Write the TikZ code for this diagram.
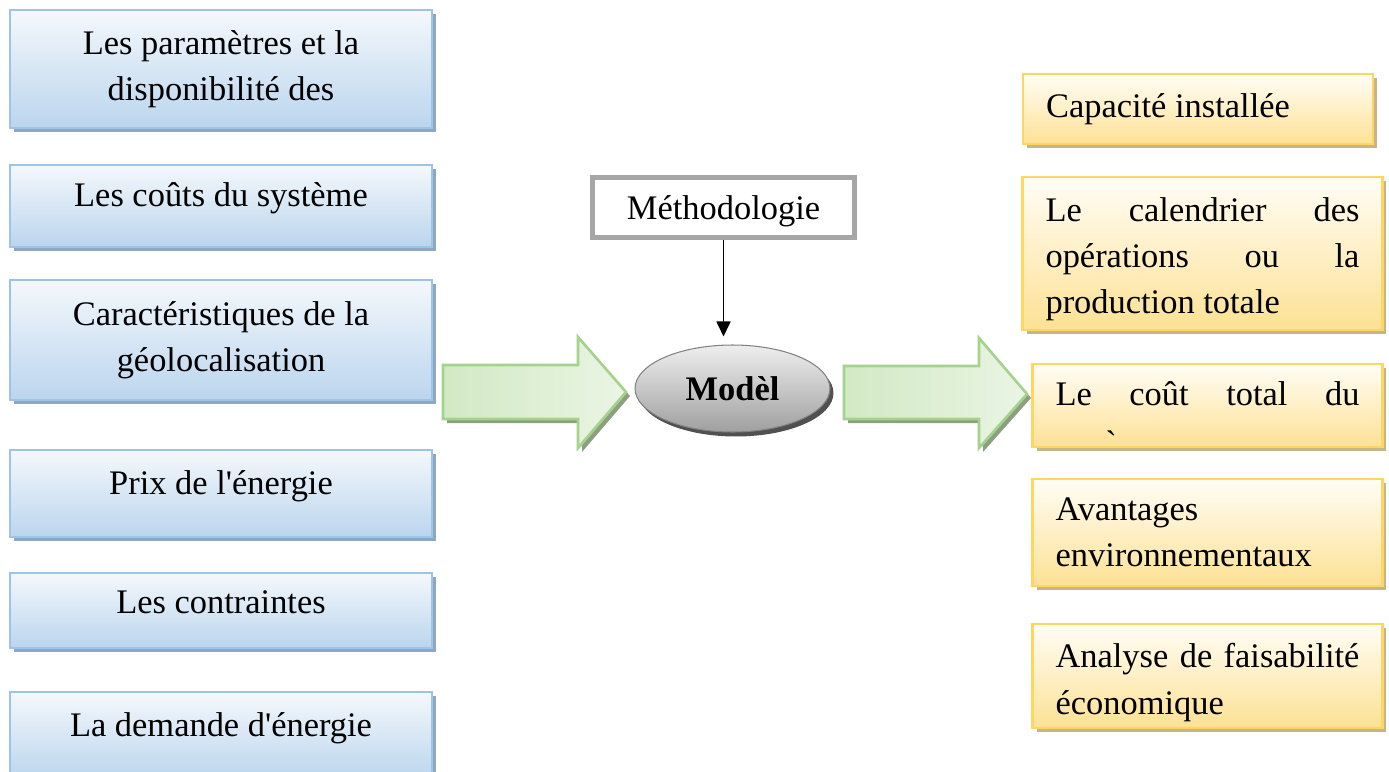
\documentclass[tikz,border=0pt]{standalone}
\usepackage{fontspec}
\setmainfont{Liberation Serif}[Ligatures=TeXOff]
\usetikzlibrary{shapes.geometric}
\usetikzlibrary{shadows}
\usetikzlibrary{arrows.meta}
\definecolor{boxblue}{RGB}{157,195,230}
\definecolor{bluetop}{RGB}{244,248,252}
\definecolor{bluebottom}{RGB}{187,213,238}
\definecolor{blueshadow}{RGB}{142,168,195}
\definecolor{boxgold}{RGB}{255,214,98}
\definecolor{goldtop}{RGB}{255,253,246}
\definecolor{goldbottom}{RGB}{253,225,148}
\definecolor{goldshadow}{RGB}{196,182,138}
\definecolor{arrowgreen}{RGB}{165,210,140}
\definecolor{greenleft}{RGB}{210,233,197}
\definecolor{greenright}{RGB}{234,245,228}
\definecolor{greenshadow}{RGB}{140,160,128}
\definecolor{methgrey}{RGB}{166,166,166}
\definecolor{elltop}{RGB}{238,238,238}
\definecolor{ellmid}{RGB}{200,200,200}
\definecolor{ellbottom}{RGB}{160,160,160}
\definecolor{ellrim}{RGB}{130,130,130}
\definecolor{ellshadow}{RGB}{80,80,80}

\begin{document}
\begin{tikzpicture}[x=0.02cm,y=-0.02cm,
  every node/.style={font=\fontsize{19.6}{26.4}\selectfont},
  inbox/.style={draw=boxblue,line width=1.5pt,top color=bluetop,bottom color=bluebottom,
    minimum width=8.44cm,text width=8cm,align=flush center,
    drop shadow={shadow xshift=0.08cm,shadow yshift=-0.08cm,fill=blueshadow,opacity=1}},
  oneline/.style={text height=0.47cm,text depth=0.45cm},
  outbox/.style={draw=boxgold,line width=1.5pt,top color=goldtop,bottom color=goldbottom,
    inner xsep=0.46cm,align=flush left,
    drop shadow={shadow xshift=0.08cm,shadow yshift=-0.08cm,fill=goldshadow,opacity=1}},
  methbox/.style={draw=methgrey,line width=0.1cm,fill=white,inner sep=0pt,text depth=0pt,
    minimum width=5.24cm,minimum height=1.2cm},
  modelnode/.style={ellipse,draw=ellrim,line width=0.6pt,top color=elltop,middle color=ellmid,
    bottom color=ellbottom,minimum width=3.9cm,minimum height=1.74cm,
    drop shadow={shadow xshift=0.07cm,shadow yshift=-0.09cm,fill=ellshadow,opacity=1}},
  bigarrow/.style={draw=arrowgreen,line width=1.5pt,line join=miter,left color=greenleft,right color=greenright,
    drop shadow={shadow xshift=0.08cm,shadow yshift=-0.08cm,fill=greenshadow,opacity=1}}]
\useasboundingbox (0,0) rectangle (1389,771);

\coordinate (l1) at (221,69);
\coordinate (l2) at (221,206);
\coordinate (l3) at (221,340);
\coordinate (l4) at (221,493.5);
\coordinate (l5) at (221,610.5);
\coordinate (l6) at (221,736);

\coordinate (r1) at (1198,109);
\coordinate (r2) at (1202.5,253.5);
\coordinate (r3) at (1207.5,405.5);
\coordinate (r4) at (1207.5,532.5);
\coordinate (r5) at (1207.5,676);

  \draw[bigarrow] (443,365) -- (578,365) -- (578,337) -- (626,392) -- (578,448) -- (578,419) -- (443,419) -- cycle;
  \draw[bigarrow] (844,366) -- (979,366) -- (979,338) -- (1027,394) -- (979,448) -- (979,419) -- (844,419) -- cycle;

  \node (param) at (l1) [inbox,minimum height=2.36cm] {Les paramètres et la\\ disponibilité des};
  \node (couts) at (l2) [inbox,oneline,minimum height=1.64cm] {Les coûts du système};
  \node (geo) at (l3) [inbox,minimum height=2.4cm] {Caractéristiques de la\\ géolocalisation};
  \node (prix) at (l4) [inbox,oneline,minimum height=1.74cm] {Prix de l'énergie};
  \node (contr) at (l5) [inbox,oneline,text depth=0.35cm,minimum height=1.5cm] {Les contraintes};
  \node (demande) at (l6) [inbox,oneline,minimum height=1.76cm] {La demande d'énergie};

  \node (meth) at (723.5,207.5) [methbox] {Méthodologie};
  \node (model) at (732.5,388.5) [modelnode] {\bfseries Modèl};
  \draw[line width=1pt,-{Triangle[length=0.3cm,width=0.28cm]},shorten >=0.16cm] (meth) -- (meth |- model.north);

  \node (capa) at (r1) [outbox,text width=6.08cm,minimum height=1.4cm] {Capacité installée};
  \node (calend) at (r2) [outbox,text width=6.28cm,minimum height=3.06cm,text height=0.71cm] {Le\hfill calendrier\hfill des\\ opérations\hfill ou\hfill la\\ production totale};
  \node (cout) at (r3) [outbox,text width=6.08cm,minimum height=1.66cm,text height=0.47cm,text depth=0.48cm] {Le\hfill coût\hfill total\hfill du};
  \node (accent) at (1112,446) {\`{}};
  \node (avant) at (r4) [outbox,text width=6.08cm,minimum height=2.14cm] {Avantages\\ environnementaux};
  \node (faisab) at (r5) [outbox,text width=6.08cm,minimum height=2.08cm,text height=0.75cm] {Analyse\hfill de\hfill faisabilité\\ économique};
\end{tikzpicture}
\end{document}
